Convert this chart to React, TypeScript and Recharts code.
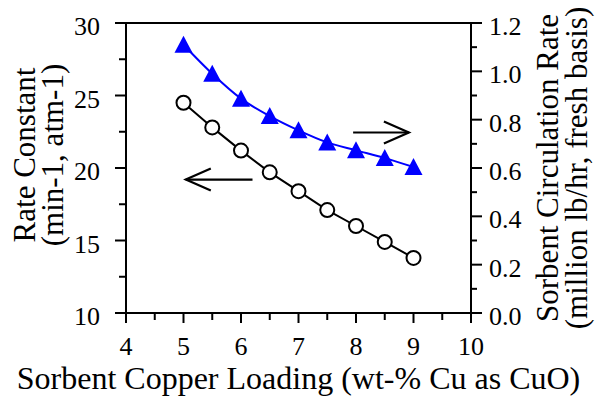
import React from 'react';
import {
  ComposedChart,
  Line,
  XAxis,
  YAxis,
  ReferenceLine,
} from 'recharts';

// copper loading (wt-% CuO)
const loading = [5, 5.5, 6, 6.5, 7, 7.5, 8, 8.5, 9];
// rate constant (min-1, atm-1), left axis, open circles
const rateConstant = [24.5, 22.8, 21.2, 19.7, 18.4, 17.1, 16.0, 14.9, 13.8];
// sorbent circulation rate (million lb/hr), right axis, blue triangles
const circulationRate = [1.11, 0.99, 0.887, 0.815, 0.756, 0.706, 0.673, 0.641, 0.604];

const xTicks = [4, 4.5, 5, 5.5, 6, 6.5, 7, 7.5, 8, 8.5, 9, 9.5, 10];
const leftTicks = [10, 12.5, 15, 17.5, 20, 22.5, 25, 27.5, 30];
const rightTicks = [0, 0.1, 0.2, 0.3, 0.4, 0.5, 0.6, 0.7, 0.8, 0.9, 1.0, 1.1, 1.2];

// arrow annotations, in left-axis units
const arrowRight = [{ x: 7.95, y: 22.45 }, { x: 8.92, y: 22.45 }];
const arrowLeft = [{ x: 6.2, y: 19.2 }, { x: 5.04, y: 19.2 }];

const data = loading.map((x, i) => ({ x, k: rateConstant[i], s: circulationRate[i] }));

const FONT = 'Liberation Serif';
const TICK_FONT = 26;
const LABEL_FONT = 31;
const X_LABEL_FONT = 32;

function BottomTick({ x, y, payload }: any) {
  const major = Number.isInteger(payload.value);
  return (
    <g>
      <line x1={x} y1={y} x2={x} y2={y + (major ? 10 : 7)} stroke="#000" strokeWidth={2} />
      {major && (
        <text x={x} y={y + 41.5} textAnchor="middle" fontSize={TICK_FONT} fontFamily={FONT} fill="#000">
          {payload.value}
        </text>
      )}
    </g>
  );
}

function LeftTick({ x, y, payload }: any) {
  const major = payload.value % 5 === 0;
  return (
    <g>
      <line x1={x} y1={y} x2={x - (major ? 11 : 7)} y2={y} stroke="#000" strokeWidth={2} />
      {major && (
        <text x={x - 26} y={y + 12} textAnchor="end" fontSize={TICK_FONT} fontFamily={FONT} fill="#000">
          {payload.value}
        </text>
      )}
    </g>
  );
}

function RightTick({ x, y, payload }: any) {
  const major = Math.round(payload.value * 10) % 2 === 0;
  return (
    <g>
      <line x1={x} y1={y} x2={x + (major ? 11 : 6)} y2={y} stroke="#000" strokeWidth={2} />
      {major && (
        <text x={x + 18} y={y + 12} textAnchor="start" fontSize={TICK_FONT} fontFamily={FONT} fill="#000">
          {payload.value.toFixed(1)}
        </text>
      )}
    </g>
  );
}

function Triangle({ cx, cy }: any) {
  if (cx == null || cy == null) return null;
  return <path d={`M${cx},${cy - 9} L${cx + 9},${cy + 8} L${cx - 9},${cy + 8} Z`} fill="#0000ff" />;
}

function Arrow({ x1, y1, x2, y2 }: any) {
  const dir = x2 > x1 ? 1 : -1;
  const head = 25;
  const half = 11;
  return (
    <g stroke="#000" strokeWidth={2.2} fill="none">
      <line x1={x1} y1={y1} x2={x2} y2={y2} />
      <polyline points={`${x2 - dir * head},${y2 - half} ${x2},${y2} ${x2 - dir * head},${y2 + half}`} />
    </g>
  );
}

function RotatedText({ x, y, children }: any) {
  return (
    <text
      x={0}
      y={0}
      transform={`translate(${x},${y}) rotate(-90)`}
      textAnchor="middle"
      fontSize={LABEL_FONT}
      fontFamily={FONT}
      fill="#000"
    >
      {children}
    </text>
  );
}

export default function App() {
  return (
    <div style={{ position: 'absolute', left: 0, top: 0, width: 595, height: 396, background: '#fff' }}>
      <ComposedChart width={595} height={396} data={data} margin={{ top: 23, right: 0, bottom: 0, left: 0 }}>
        <XAxis
          dataKey="x"
          type="number"
          domain={[4, 10]}
          ticks={xTicks}
          interval={0}
          height={83}
          tickSize={0}
          tickMargin={0}
          tickLine={false}
          tick={<BottomTick />}
          axisLine={{ stroke: '#000', strokeWidth: 2 }}
          label={{
            content: ({ viewBox }: any) => (
              <text
                x={viewBox.x + viewBox.width / 2}
                y={viewBox.y + 76}
                textAnchor="middle"
                fontSize={X_LABEL_FONT}
                fontFamily={FONT}
                fill="#000"
              >
                Sorbent Copper Loading (wt-% Cu as CuO)
              </text>
            ),
          }}
        />
        <YAxis
          yAxisId="left"
          orientation="left"
          domain={[10, 30]}
          ticks={leftTicks}
          interval={0}
          width={126}
          tickSize={0}
          tickMargin={0}
          tickLine={false}
          tick={<LeftTick />}
          axisLine={{ stroke: '#000', strokeWidth: 2 }}
          label={{
            content: ({ viewBox }: any) => {
              const cy = viewBox.y + viewBox.height / 2 - 13;
              return (
                <g>
                  <RotatedText x={viewBox.x + 35} y={cy}>Rate Constant</RotatedText>
                  <RotatedText x={viewBox.x + 63} y={cy}>(min-1, atm-1)</RotatedText>
                </g>
              );
            },
          }}
        />
        <YAxis
          yAxisId="right"
          orientation="right"
          domain={[0, 1.2]}
          ticks={rightTicks}
          interval={0}
          width={124}
          tickSize={0}
          tickMargin={0}
          tickLine={false}
          tick={<RightTick />}
          axisLine={{ stroke: '#000', strokeWidth: 2 }}
          label={{
            content: ({ viewBox }: any) => {
              const cy = viewBox.y + viewBox.height / 2;
              return (
                <g>
                  <RotatedText x={viewBox.x + 87} y={cy}>Sorbent Circulation Rate</RotatedText>
                  <RotatedText x={viewBox.x + 116} y={cy}>(million lb/hr, fresh basis)</RotatedText>
                </g>
              );
            },
          }}
        />
        <ReferenceLine yAxisId="left" y={30} stroke="#000" strokeWidth={2} />
        <ReferenceLine yAxisId="left" segment={arrowRight} shape={(p: any) => <Arrow {...p} />} />
        <ReferenceLine yAxisId="left" segment={arrowLeft} shape={(p: any) => <Arrow {...p} />} />
        <Line
          yAxisId="right"
          type="monotone"
          dataKey="s"
          stroke="#0000ff"
          strokeWidth={2}
          dot={(p: any) => <Triangle key={`t${p.index}`} {...p} />}
          isAnimationActive={false}
        />
        <Line
          yAxisId="left"
          type="linear"
          dataKey="k"
          stroke="#000"
          strokeWidth={2}
          dot={{ r: 7, fill: '#fff', stroke: '#000', strokeWidth: 2 }}
          isAnimationActive={false}
        />
      </ComposedChart>
    </div>
  );
}
